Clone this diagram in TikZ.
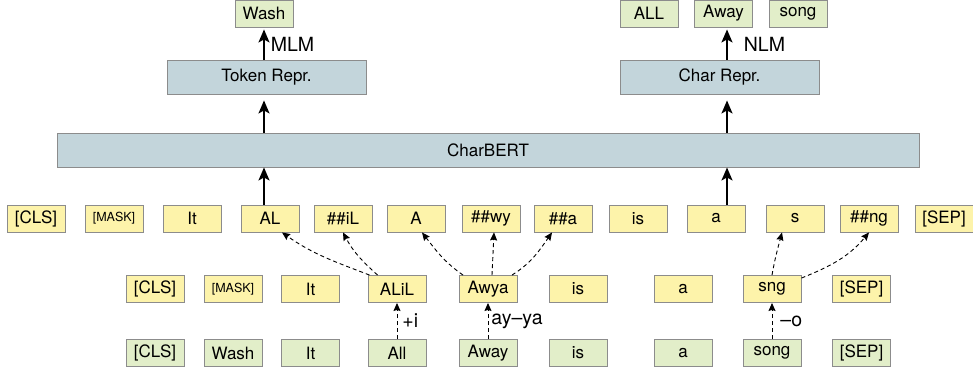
\documentclass[tikz,border=0pt]{standalone}
\usepackage{fontspec}
\setmainfont{TeX Gyre Heros}
\usetikzlibrary{arrows.meta}

\definecolor{subyellow}{HTML}{FDF3AA}
\definecolor{wordgreen}{HTML}{E2EEC9}
\definecolor{layerblue}{HTML}{C3D5DB}
\definecolor{boxgray}{HTML}{8C8C8C}

\begin{document}
\begin{tikzpicture}[x=1pt, y=1pt,
  tok/.style={rectangle, draw=boxgray, line width=0.9pt, minimum width=58pt, minimum height=27pt, inner sep=0pt, font=\fontsize{17}{20}\selectfont},
  sub/.style={tok, fill=subyellow},
  word/.style={tok, fill=wordgreen},
  layer/.style={tok, fill=layerblue, minimum height=34pt},
  small/.style={font=\fontsize{12.5}{14}\selectfont},
  feed/.style={-{Stealth[length=13pt, width=11pt, inset=3pt]}, line width=1.8pt},
  edit/.style={-{Stealth[length=8pt, width=7pt, inset=1pt]}, dashed, dash pattern=on 4pt off 3pt, line width=0.9pt},
  note/.style={font=\fontsize{19.5}{22}\selectfont, inner sep=2pt}
]
\useasboundingbox (0,0) rectangle (973,-376);

% Layers
\node[layer, minimum width=862pt] (charbert) at (488,-150) {CharBERT};
\node[layer, minimum width=199pt] (tokrepr) at (266.5,-77) {Token Repr.};
\node[layer, minimum width=199pt] (charrepr) at (719.5,-77) {Char Repr.};

% Predictions
\node[word] (wash) at (264,-13.5) {Wash};
\node[word] (all) at (649,-13.5) {ALL};
\node[word] (away) at (723.5,-13.5) {Away};
\node[word] (song) at (798,-13.5) {song};

% Subword row
\node[sub] (a-cls) at (36,-218.5) {[CLS]};
\node[sub, small] (a-mask) at (114,-218.5) {[MASK]};
\node[sub] (a-it) at (192,-218.5) {It};
\node[sub] (a-al) at (270,-218.5) {AL};
\node[sub] (a-il) at (343,-218.5) {\#\#iL};
\node[sub] (a-a) at (416,-218.5) {A};
\node[sub] (a-wy) at (491,-218.5) {\#\#wy};
\node[sub] (a-aa) at (563,-218.5) {\#\#a};
\node[sub] (a-is) at (638,-218.5) {is};
\node[sub] (a-art) at (716,-218.5) {a};
\node[sub] (a-s) at (795,-218.5) {s};
\node[sub] (a-ng) at (869,-218.5) {\#\#ng};
\node[sub] (a-sep) at (944,-218.5) {[SEP]};

% Noised word row
\node[sub] (b-cls) at (155,-289) {[CLS]};
\node[sub, small] (b-mask) at (233,-289) {[MASK]};
\node[sub] (b-it) at (310.5,-289) {It};
\node[sub] (b-alil) at (397,-289) {ALiL};
\node[sub] (b-awya) at (488,-289) {Awya};
\node[sub] (b-is) at (578,-289) {is};
\node[sub] (b-art) at (683,-289) {a};
\node[sub] (b-sng) at (772,-289) {sng};
\node[sub] (b-sep) at (861.5,-289) {[SEP]};

% Original word row
\node[word] (c-cls) at (155,-353) {[CLS]};
\node[word] (c-wash) at (233,-353) {Wash};
\node[word] (c-it) at (310.5,-353) {It};
\node[word] (c-all) at (397,-353) {All};
\node[word] (c-away) at (488,-353) {Away};
\node[word] (c-is) at (578,-353) {is};
\node[word] (c-art) at (683,-353) {a};
\node[word] (c-song) at (772,-353) {song};
\node[word] (c-sep) at (861.5,-353) {[SEP]};

% Model arrows
\draw[feed] (a-al.north -| wash) -- (charbert.south -| wash);
\draw[feed] (charbert.north -| wash) -- ([yshift=-6pt]tokrepr.south -| wash);
\draw[feed] (tokrepr.north -| wash) -- node[note, right=4pt] {MLM} ([yshift=-2pt]wash.south);
\draw[feed] ([xshift=3.5pt]a-art.north -| away) -- ([xshift=3.5pt]charbert.south -| away);
\draw[feed] ([xshift=3.5pt]charbert.north -| away) -- ([xshift=3.5pt, yshift=-6pt]charrepr.south -| away);
\draw[feed] ([xshift=3.5pt]charrepr.north -| away) -- node[note, right=14pt] {NLM} ([xshift=3.5pt, yshift=-2pt]away.south);

% Noise
\draw[edit] (c-all) -- node[note, right=3pt] {+i} (b-alil);
\draw[edit] (c-away) -- node[note, right=1pt] {ay--ya} (b-awya);
\draw[edit] (c-song) -- node[note, right=6pt] {--o} (b-sng);

% Subword split
\draw[edit] ([xshift=2pt]b-alil.north west) to[out=159, in=-35] ([xshift=12pt]a-al.south);
\draw[edit] ([xshift=10pt]b-alil.north west) to[out=138, in=-62] (a-il.south);
\draw[edit] ([xshift=-25pt]b-awya.north) to[out=145, in=-52] ([xshift=6pt]a-a.south);
\draw[edit] ([xshift=4pt]b-awya.north) -- ([xshift=3pt]a-wy.south);
\draw[edit] ([xshift=24pt]b-awya.north) to[out=32, in=-125] ([xshift=-11pt]a-aa.south);
\draw[edit] (b-sng.north) to[out=80, in=-105] ([xshift=-13pt]a-s.south);
\draw[edit] ([yshift=-3pt]b-sng.north east) to[out=22, in=-130] (a-ng.south);

\end{tikzpicture}
\end{document}
